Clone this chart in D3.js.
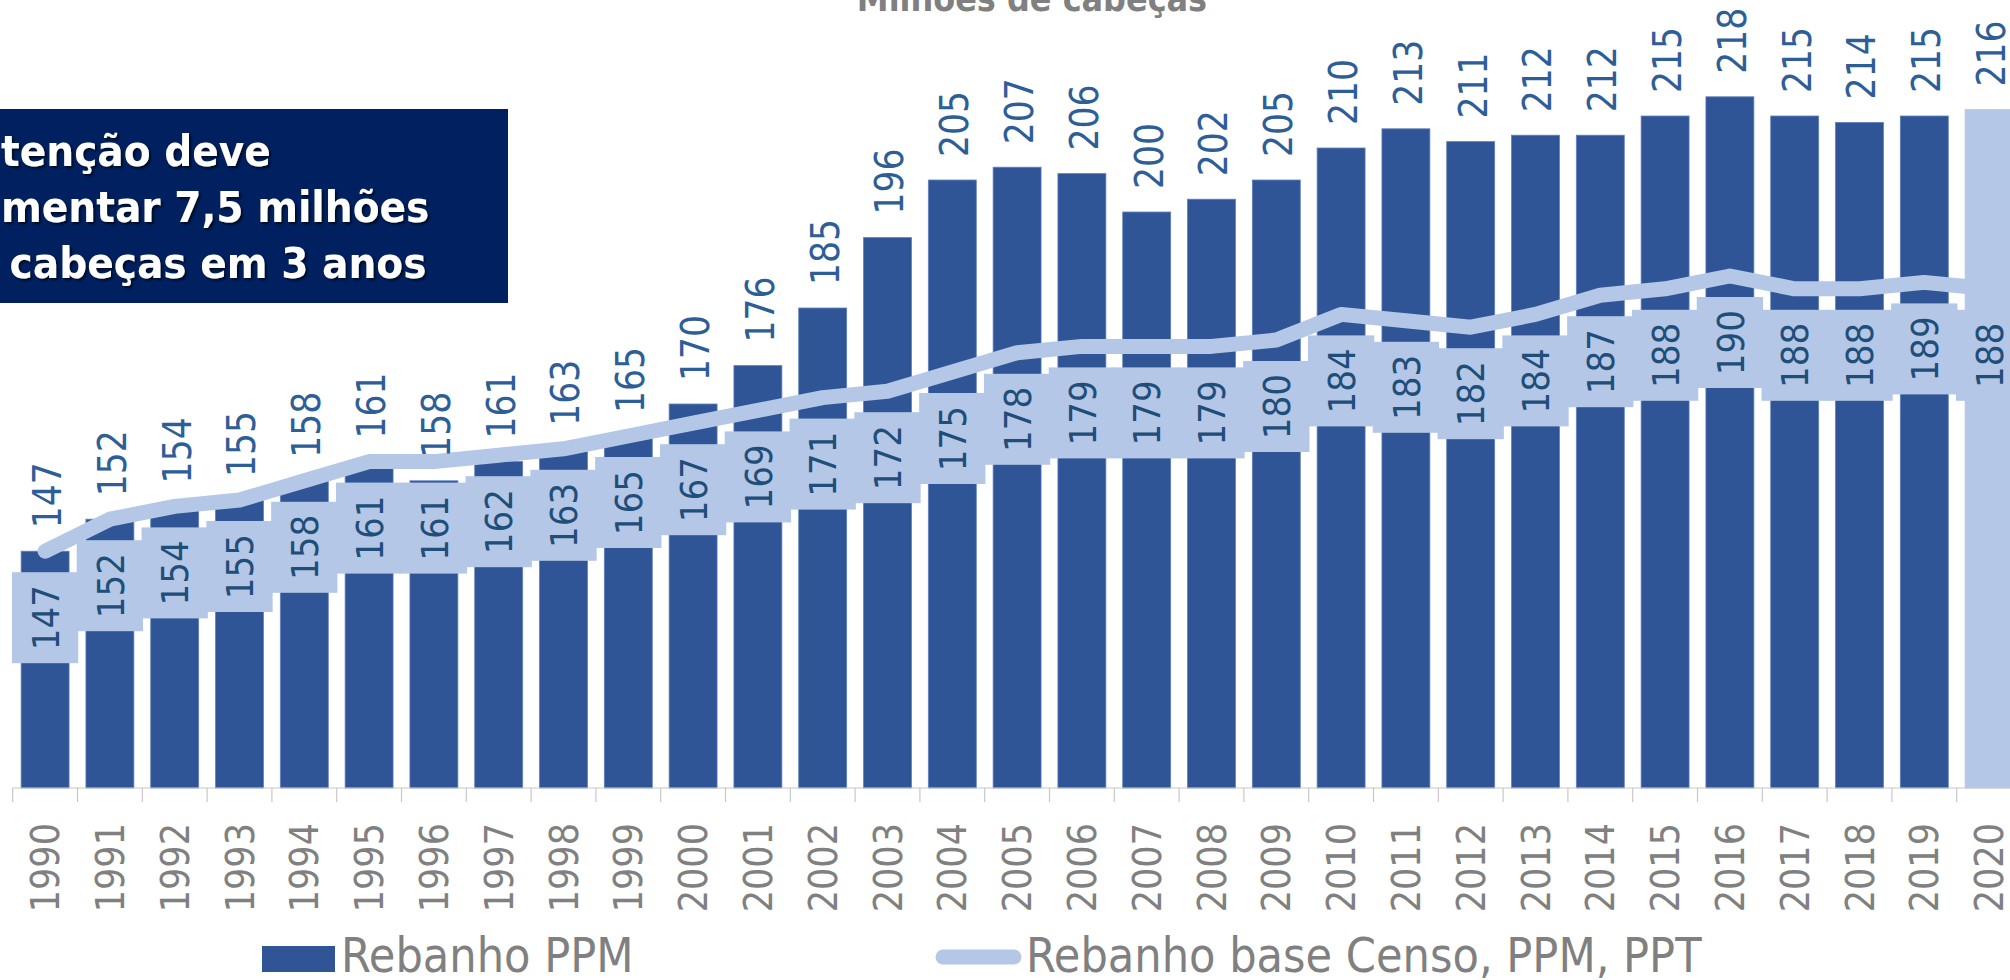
<!DOCTYPE html>
<html>
<head>
<meta charset="utf-8">
<script src="https://cdn.jsdelivr.net/npm/d3@7"></script>
<style>
  html, body { margin: 0; padding: 0; background: #fff; overflow: hidden; }
  svg { display: block; }
  .cond { font-family: "DejaVu Sans Condensed", "DejaVu Sans", sans-serif; font-stretch: condensed; }
</style>
</head>
<body>
<div id="vis"></div>
<script>
const FRAME_WIDTH = 2010;
const FRAME_HEIGHT = 980;

// data
const YEARS = ["1990","1991","1992","1993","1994","1995","1996","1997","1998","1999",
               "2000","2001","2002","2003","2004","2005","2006","2007","2008","2009",
               "2010","2011","2012","2013","2014","2015","2016","2017","2018","2019","2020"];
const REBANHO_PPM = [147,152,154,155,158,161,158,161,163,165,170,176,185,196,205,207,206,200,202,205,
                     210,213,211,212,212,215,218,215,214,215,216];
const REBANHO_CENSO = [147,152,154,155,158,161,161,162,163,165,167,169,171,172,175,178,179,179,179,180,
                       184,183,182,184,187,188,190,188,188,189,188];
const PROJECTED = ["2020"];
const SERIES_NAMES = ["Rebanho PPM", "Rebanho base Censo, PPM, PPT"];
const TITLE = "Milhões de cabeças";
const NOTE_LINES = ["tenção deve", "mentar 7,5 milhões", " cabeças em 3 anos"];

const DARK = "#2F5597";
const LIGHT = "#B4C7E7";
const GRAY = "#808080";

const FRAME = d3.select("#vis")
  .append("svg")
    .attr("width", FRAME_WIDTH)
    .attr("height", FRAME_HEIGHT);

const defs = FRAME.append("defs");
defs.append("filter").attr("id", "shadow")
    .attr("x", "-5%").attr("y", "-20%").attr("width", "110%").attr("height", "140%")
  .append("feDropShadow")
    .attr("dx", 2).attr("dy", 2).attr("stdDeviation", 1)
    .attr("flood-color", "#000").attr("flood-opacity", 0.65);

const BASE_Y = 788;

const X_SCALE = d3.scaleBand()
  .domain(YEARS)
  .range([12.7, 12.7 + 64.8 * YEARS.length])
  .paddingInner(0.26)
  .paddingOuter(0.13);

const Y_SCALE = d3.scaleLinear()
  .domain([110, 230])
  .range([BASE_Y, BASE_Y - 120 * 6.4]);

const cx = (d) => X_SCALE(d) + X_SCALE.bandwidth() / 2;

// title (top is cut off in the original)
FRAME.append("text")
  .attr("class", "cond")
  .attr("x", 1032).attr("y", 11)
  .attr("text-anchor", "middle")
  .attr("font-weight", "bold")
  .attr("font-size", 35.5)
  .attr("fill", GRAY)
  .text(TITLE);

// bars
const barData = YEARS.map((d, i) => ({year: d, value: REBANHO_PPM[i]}));
FRAME.append("g").selectAll("rect")
  .data(barData)
  .enter()
  .append("rect")
    .attr("x", (d) => X_SCALE(d.year))
    .attr("y", (d) => Y_SCALE(d.value))
    .attr("width", X_SCALE.bandwidth())
    .attr("height", (d) => BASE_Y - Y_SCALE(d.value))
    .attr("fill", (d) => PROJECTED.includes(d.year) ? LIGHT : DARK)
    .attr("stroke", (d) => PROJECTED.includes(d.year) ? LIGHT : "#5F80BD")
    .attr("stroke-width", 0.8);

// axis
const axis = FRAME.append("g")
  .attr("transform", "translate(0," + BASE_Y + ")")
  .call(d3.axisBottom(X_SCALE).tickSize(0).tickPadding(0));
axis.select(".domain").remove();
axis.append("line")
  .attr("x1", X_SCALE.range()[0]).attr("x2", X_SCALE.range()[1])
  .attr("stroke", "#C8C8C8").attr("stroke-width", 1.2);
axis.selectAll(".bound")
  .data(YEARS.concat(["end"]))
  .enter()
  .append("line")
    .attr("x1", (d, i) => X_SCALE.range()[0] + i * X_SCALE.step())
    .attr("x2", (d, i) => X_SCALE.range()[0] + i * X_SCALE.step())
    .attr("y1", 0).attr("y2", 14)
    .attr("stroke", "#C8C8C8").attr("stroke-width", 1.2);
axis.selectAll(".tick text")
  .attr("class", "cond")
  .attr("font-size", 39)
  .attr("fill", GRAY)
  .attr("text-anchor", "end")
  .attr("transform", "translate(0,35) rotate(-90)")
  .attr("x", 0).attr("y", 0)
  .attr("dy", "0.36em");

// line series
const lineData = YEARS.map((d, i) => ({year: d, value: REBANHO_CENSO[i]}));
const LINE = d3.line()
  .x((d) => cx(d.year))
  .y((d) => Y_SCALE(d.value));
FRAME.append("path")
  .datum(lineData)
  .attr("d", LINE)
  .attr("fill", "none")
  .attr("stroke", LIGHT)
  .attr("stroke-width", 15)
  .attr("stroke-linejoin", "round")
  .attr("stroke-linecap", "round");

// line labels with filled boxes
const BOX_W = X_SCALE.step() + 1.5;
const BOX_H = 91;
const lbl = FRAME.append("g").selectAll("g")
  .data(lineData)
  .enter()
  .append("g")
    .attr("transform", (d) => "translate(" + cx(d.year) + "," + (Y_SCALE(d.value) + 21) + ")");
lbl.append("rect")
  .attr("x", -BOX_W / 2).attr("y", 0)
  .attr("width", BOX_W).attr("height", BOX_H)
  .attr("fill", LIGHT);
lbl.append("text")
  .attr("class", "cond")
  .attr("transform", "translate(0," + (BOX_H / 2) + ") rotate(-90)")
  .attr("text-anchor", "middle")
  .attr("dy", "0.36em")
  .attr("font-size", 38)
  .attr("fill", "#1F4E79")
  .text((d) => d.value);

// bar labels
FRAME.append("g").selectAll("text")
  .data(barData)
  .enter()
  .append("text")
    .attr("class", "cond")
    .attr("transform", (d) => "translate(" + (cx(d.year) + 2) + "," + (Y_SCALE(d.value) - 23) + ") rotate(-90)")
    .attr("text-anchor", "start")
    .attr("dy", "0.36em")
    .attr("font-size", 38.5)
    .attr("fill", "#2E5E98")
    .text((d) => d.value);

// note box
const note = FRAME.append("g");
note.append("rect")
  .attr("x", 0).attr("y", 109)
  .attr("width", 508).attr("height", 194)
  .attr("fill", "#002060");
note.selectAll("text")
  .data(NOTE_LINES)
  .enter()
  .append("text")
    .attr("class", "cond")
    .attr("x", (d, i) => i === 2 ? -4 : 1)
    .attr("y", (d, i) => 166 + i * 56)
    .attr("font-weight", "bold")
    .attr("font-size", 43.5)
    .attr("fill", "#fff")
    .attr("filter", "url(#shadow)")
    .attr("xml:space", "preserve")
    .style("white-space", "pre")
    .text((d) => d);

// legend
const legend = FRAME.append("g");
legend.append("rect")
  .attr("x", 262).attr("y", 946)
  .attr("width", 73).attr("height", 26)
  .attr("fill", DARK);
legend.append("text")
  .attr("class", "cond")
  .attr("x", 341).attr("y", 972)
  .attr("font-size", 48)
  .attr("fill", GRAY)
  .text(SERIES_NAMES[0]);
legend.append("line")
  .attr("x1", 943).attr("x2", 1014)
  .attr("y1", 957).attr("y2", 957)
  .attr("stroke", LIGHT)
  .attr("stroke-width", 15)
  .attr("stroke-linecap", "round");
legend.append("text")
  .attr("class", "cond")
  .attr("x", 1026).attr("y", 972)
  .attr("font-size", 48)
  .attr("fill", GRAY)
  .text(SERIES_NAMES[1]);
</script>
</body>
</html>
